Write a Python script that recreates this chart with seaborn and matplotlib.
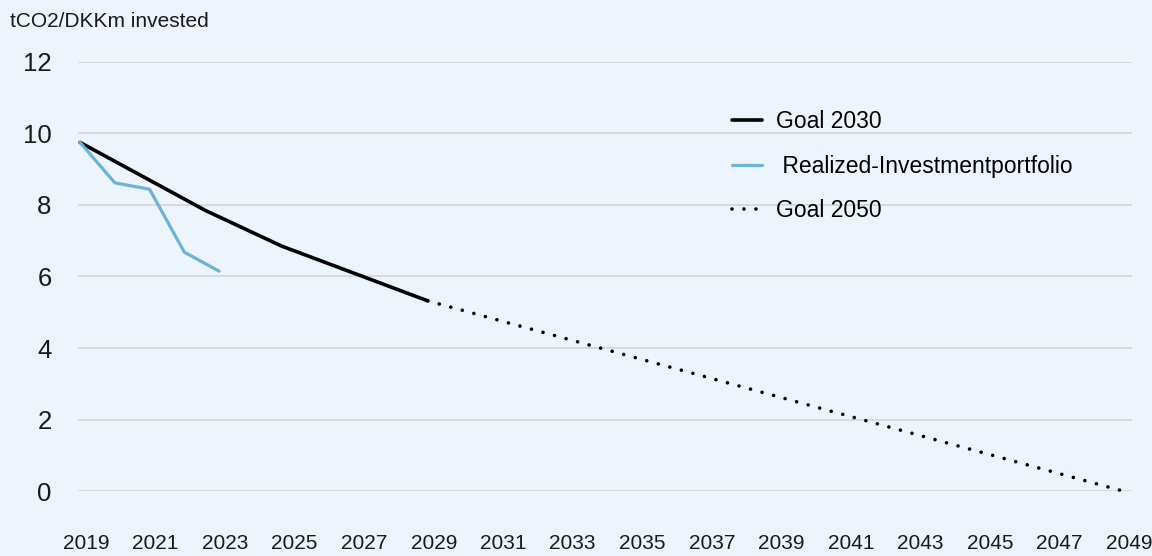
import matplotlib
matplotlib.use("Agg")
import matplotlib.pyplot as plt
import matplotlib.transforms as mtransforms
import pandas as pd
import seaborn as sns

# values
goal_2030_years = [2019, 2022.6, 2024.8, 2029]
goal_2030_values = [9.75, 7.85, 6.85, 5.32]

realized_years = [2019, 2020, 2021, 2022, 2023]
realized_values = [9.75, 8.62, 8.44, 6.68, 6.15]

goal_2050_years = [2029, 2049]
goal_2050_values = [5.32, 0.0]

tick_years = list(range(2019, 2050, 2))
y_ticks = [0, 2, 4, 6, 8, 10, 12]

bg = "#eef4fb"
blue = "#6ab4da"
txt = "#1a1a1a"

sns.set_theme(style="white")
plt.rcParams["font.family"] = ["Liberation Sans", "DejaVu Sans"]

fig = plt.figure(figsize=(11.52, 5.56), dpi=100, facecolor=bg)
ax = fig.add_axes([0.0677, 0.1169, 0.9149, 0.7716], facecolor=bg)

goal30 = pd.DataFrame({"year": goal_2030_years, "value": goal_2030_values})
realized = pd.DataFrame({"year": realized_years, "value": realized_values})
goal50 = pd.DataFrame({"year": goal_2050_years, "value": goal_2050_values})

sns.lineplot(data=goal30, x="year", y="value", ax=ax, color="black",
             linewidth=2.6, label="Goal 2030", solid_capstyle="round")
sns.lineplot(data=realized, x="year", y="value", ax=ax, color=blue,
             linewidth=2.3, label=" Realized-Investmentportfolio")
sns.lineplot(data=goal50, x="year", y="value", ax=ax, color="black",
             linewidth=2.6, label="Goal 2050", clip_on=False)
ax.lines[-1].set_linestyle((0, (0.01, 3.3)))
ax.lines[-1].set_dash_capstyle("round")

ax.set_xlim(2018.94, 2049.26)
ax.set_ylim(0, 12)
ax.set_xticks(tick_years)
ax.set_xticklabels([str(y) for y in tick_years], fontsize=15, color=txt)
ax.set_yticks(y_ticks)
ax.set_yticklabels([str(v) for v in y_ticks], fontsize=18.5, color=txt)
ax.tick_params(axis="x", length=0, pad=31)
ax.tick_params(axis="y", length=0, pad=19)
offset = mtransforms.ScaledTranslation(6 / 100, 0, fig.dpi_scale_trans)
for lab in ax.get_xticklabels():
    lab.set_transform(lab.get_transform() + offset)

ax.grid(axis="y", color="#d2d2d2", linewidth=1.1)
ax.grid(axis="x", visible=False)
for s in ax.spines.values():
    s.set_visible(False)
ax.set_xlabel("")
ax.set_ylabel("")

fig.text(0.009, 0.962, "tCO2/DKKm invested", fontsize=15, color=txt,
         va="center", ha="left")

leg = ax.legend(loc="upper left", bbox_to_anchor=(0.612, 0.91), frameon=False,
                fontsize=16.5, handlelength=1.3, handletextpad=0.6,
                labelspacing=0.95, borderaxespad=0)
for t in leg.get_texts():
    t.set_color("black")

plt.savefig("out.png", dpi=100, facecolor=bg)
plt.close()
